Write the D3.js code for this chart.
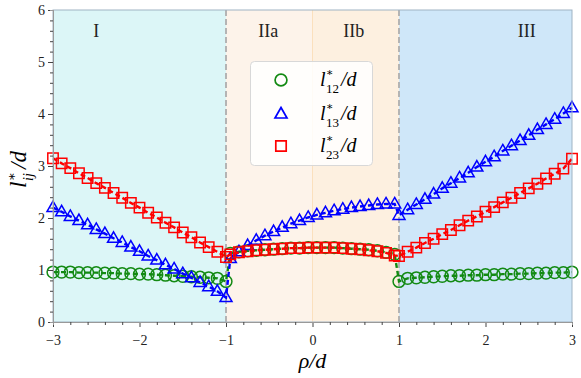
<!DOCTYPE html>
<html><head><meta charset="utf-8">
<script src="https://cdn.jsdelivr.net/npm/d3@7"></script>
<style>body{margin:0;background:#fff}svg{display:block}</style>
</head><body><svg id="c" width="581" height="378"></svg>
<script>
const rhoI   = [-3,-2.9,-2.8,-2.7,-2.6,-2.5,-2.4,-2.3,-2.2,-2.1,-2,-1.9,-1.8,-1.7,-1.6,-1.5,-1.4,-1.3,-1.2,-1.1,-1];
const rhoII  = [-0.95,-0.85,-0.75,-0.65,-0.55,-0.45,-0.35,-0.25,-0.15,-0.05,0.05,0.15,0.25,0.35,0.45,0.55,0.65,0.75,0.85,0.95];
const rhoIII = [1,1.1,1.2,1.3,1.4,1.5,1.6,1.7,1.8,1.9,2,2.1,2.2,2.3,2.4,2.5,2.6,2.7,2.8,2.9,3];

const l12I   = [0.96,0.96,0.96,0.95,0.95,0.95,0.94,0.94,0.93,0.93,0.92,0.92,0.91,0.90,0.89,0.88,0.87,0.86,0.85,0.84,0.78];
const l13I   = [2.2,2.12,2.03,1.95,1.87,1.78,1.7,1.61,1.53,1.44,1.36,1.27,1.19,1.1,1.02,0.93,0.85,0.76,0.68,0.59,0.47];
const l23I   = [3.15,3.05,2.96,2.86,2.77,2.67,2.58,2.48,2.39,2.29,2.2,2.1,2.01,1.91,1.82,1.72,1.63,1.53,1.44,1.35,1.25];

const l12II  = [1.32,1.35,1.37,1.38,1.39,1.40,1.41,1.42,1.42,1.43,1.43,1.43,1.43,1.42,1.41,1.40,1.39,1.37,1.34,1.30];
const l13II  = [1.22,1.35,1.47,1.57,1.66,1.74,1.82,1.89,1.95,2.01,2.06,2.10,2.14,2.17,2.20,2.22,2.24,2.26,2.27,2.27];
const l23II  = [1.30,1.34,1.36,1.38,1.39,1.40,1.41,1.42,1.42,1.43,1.43,1.43,1.43,1.42,1.41,1.40,1.38,1.36,1.33,1.28];

const l12III = [0.78,0.84,0.85,0.86,0.87,0.88,0.89,0.89,0.9,0.9,0.91,0.91,0.92,0.92,0.93,0.93,0.94,0.94,0.95,0.95,0.96];
const l13III = [2.05,2.16,2.26,2.36,2.46,2.57,2.67,2.77,2.87,2.98,3.08,3.18,3.29,3.39,3.49,3.59,3.7,3.8,3.9,4.01,4.12];
const l23III = [1.27,1.35,1.43,1.52,1.6,1.69,1.77,1.86,1.95,2.03,2.12,2.21,2.3,2.39,2.48,2.57,2.66,2.76,2.85,2.95,3.14];

const xTicks = [-3,-2,-1,0,1,2,3];
const yTicks = [0,1,2,3,4,5,6];
const regionLabels = ["I","IIa","IIb","III"];
const regionCenters = [-2.5,-0.5,0.5,2.5];
const legendLabels = ["12","13","23"];

const SERIF = "'Liberation Serif','DejaVu Serif',serif";
const svg = d3.select("#c");
const m = {l:53,r:9,t:10,b:56};
const W = 581, H = 378;
const x = d3.scaleLinear().domain([-3,3]).range([m.l, W-m.r]);
const y = d3.scaleLinear().domain([0,6]).range([H-m.b, m.t]);

// backgrounds
const bands = [[-3,-1,"#dcf6f7"],[-1,0,"#fdf3ea"],[0,1,"#fdf0e0"],[1,3,"#cfe7f9"]];
svg.selectAll("rect.bg").data(bands).join("rect")
  .attr("x",d=>x(d[0])).attr("y",y(6)).attr("width",d=>x(d[1])-x(d[0])).attr("height",y(0)-y(6))
  .attr("fill",d=>d[2]);
svg.append("line").attr("x1",x(0)).attr("x2",x(0)).attr("y1",y(0)).attr("y2",y(6))
  .attr("stroke","#fbe0bd").attr("stroke-width",1);
[-1,1].forEach(v=>svg.append("line").attr("x1",x(v)).attr("x2",x(v)).attr("y1",y(0)).attr("y2",y(6))
  .attr("stroke","#b4b4b4").attr("stroke-width",2).attr("stroke-dasharray","6,3"));

// region labels
const regX = [x(-2.5), x(-0.5)-1, x(0.5)-2, x(2.5)-2];
svg.selectAll("text.reg").data(regionLabels).join("text")
  .attr("x",(d,i)=>regX[i]).attr("y",37).attr("text-anchor","middle")
  .style("font-family",SERIF).style("font-size","18px").attr("fill","#222").text(d=>d);

const series = [
  {rho:[...rhoI,...rhoII,...rhoIII], v:[...l12I,...l12II,...l12III], c:"#138a13", shape:"circle"},
  {rho:[...rhoI,...rhoII,...rhoIII], v:[...l13I,...l13II,...l13III], c:"#0000ff", shape:"tri"},
  {rho:[...rhoI,...rhoII,...rhoIII], v:[...l23I,...l23II,...l23III], c:"#ff0000", shape:"sq"}
];
const g = svg.append("g");
const line = d3.line().x(d=>x(d[0])).y(d=>y(d[1]));
function shapePath(s){
  if(s=="circle") return d3.symbol(d3.symbolCircle, 110)();
  if(s=="tri") return "M0,-6.5L6,4L-6,4Z";
  return "M-5.2,-5.2H5.2V5.2H-5.2Z";
}
series.forEach(s=>{
  const pts = s.rho.map((r,i)=>[r,s.v[i]]);
  g.append("path").attr("d",line(pts)).attr("fill","none").attr("stroke",s.c)
    .attr("stroke-width",2.4).attr("stroke-dasharray","5,3");
  g.selectAll(null).data(pts).join("path")
    .attr("transform",d=>`translate(${x(d[0])},${y(d[1])})`)
    .attr("d",shapePath(s.shape)).attr("fill","none").attr("stroke",s.c).attr("stroke-width",1.5);
});

// frame
svg.append("rect").attr("x",x(-3)).attr("y",y(6)).attr("width",x(3)-x(-3)).attr("height",y(0)-y(6))
  .attr("fill","none").attr("stroke","#9fb3c3").attr("stroke-width",1);

// axes
const fmt = d=>d<0?"\u2212"+Math.abs(d):String(d);
const xa = svg.append("g").attr("transform",`translate(0,${y(0)})`)
  .call(d3.axisBottom(x).tickValues(xTicks).tickSize(5).tickFormat(fmt));
const xm = svg.append("g").attr("transform",`translate(0,${y(0)})`)
  .call(d3.axisBottom(x).tickValues(d3.range(-3,3.01,0.2).filter(v=>Math.abs(v-Math.round(v))>1e-6)).tickSize(3).tickFormat(""));
const ya = svg.append("g").attr("transform",`translate(${x(-3)},0)`)
  .call(d3.axisLeft(y).tickValues(yTicks).tickSize(5).tickFormat(fmt));
const ym = svg.append("g").attr("transform",`translate(${x(-3)},0)`)
  .call(d3.axisLeft(y).tickValues(d3.range(0,6.01,0.2).filter(v=>Math.abs(v-Math.round(v))>1e-6)).tickSize(3).tickFormat(""));
[xa,xm,ya,ym].forEach(a=>{a.select(".domain").attr("stroke","#999");a.selectAll("line").attr("stroke","#444");
  a.selectAll("text").style("font-size","14px").attr("fill","#222").style("font-family",SERIF);});
xa.selectAll("text").attr("dy","1.05em");

// axis labels
svg.append("text").attr("x",x(0)).attr("y",368).attr("text-anchor","middle")
  .style("font-family",SERIF).style("font-size","22px").style("font-style","italic").text("ρ/d");
const yg = svg.append("g").attr("transform",`translate(26,${y(3)}) rotate(-90)`);
yg.append("text").attr("x",-22).attr("y",0).style("font-family",SERIF).style("font-size","23px").style("font-style","italic").text("l");
yg.append("text").attr("x",-15).attr("y",-10).style("font-family",SERIF).style("font-size","13px").text("∗");
yg.append("text").attr("x",-15).attr("y",7).style("font-family",SERIF).style("font-size","14px").style("font-style","italic").text("ij");
yg.append("text").attr("x",-3).attr("y",0).style("font-family",SERIF).style("font-size","23px").style("font-style","italic").text("/d");

// legend
const lg = svg.append("g");
lg.append("rect").attr("x",250.5).attr("y",61.5).attr("width",122).attr("height",104).attr("rx",4)
  .attr("fill","#ffffff").attr("fill-opacity",0.85).attr("stroke","#d8d8d8").attr("stroke-width",1);
const ly = [80,114,146];
series.forEach((s,i)=>{
  lg.append("path").attr("transform",`translate(281,${ly[i]})`).attr("d",shapePath(s.shape))
    .attr("fill","none").attr("stroke",s.c).attr("stroke-width",1.7);
  lg.append("text").attr("x",320).attr("y",ly[i]+6).style("font-family",SERIF).style("font-size","20px").style("font-style","italic").text("l");
  lg.append("text").attr("x",326).attr("y",ly[i]-4).style("font-family",SERIF).style("font-size","11px").text("∗");
  lg.append("text").attr("x",326).attr("y",ly[i]+13).style("font-family",SERIF).style("font-size","13px").text(legendLabels[i]);
  lg.append("text").attr("x",341).attr("y",ly[i]+6).style("font-family",SERIF).style("font-size","20px").style("font-style","italic").text("/d");
});
</script></body></html>
